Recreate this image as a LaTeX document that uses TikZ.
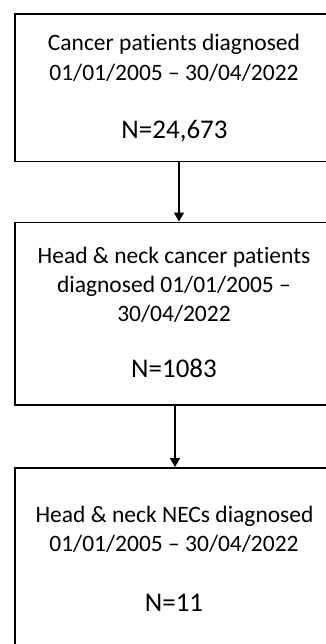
\documentclass[tikz,border=0pt]{standalone}
\usepackage{fontspec}
\setmainfont[Ligatures={NoCommon}]{Carlito}
\usetikzlibrary{arrows.meta}
\tikzset{
  stage/.style={draw=black, line width=1.9pt, rectangle, inner sep=0pt},
  txt/.style={anchor=base, inner sep=0pt, font=\fontsize{23.5}{28}\selectfont},
  bigtxt/.style={anchor=base, inner sep=0pt, font=\fontsize{27}{32}\selectfont},
  flow/.style={line width=1.4pt, -{Triangle[length=9pt,width=10pt]}}
}
\begin{document}
\begin{tikzpicture}[x=1pt,y=-1pt]
\useasboundingbox (0,0) rectangle (326,644);
\clip (0,0) rectangle (326,644);
\node[stage, minimum width=318pt, minimum height=147.5pt] (b1) at (174,87.75) {};
\node[stage, minimum width=318pt, minimum height=182.5pt] (b2) at (174,313.75) {};
\node[stage, minimum width=318pt, minimum height=240pt] (b3) at (174,588) {};
\node[txt] (t1a) at (174,50.5) {Cancer patients diagnosed};
\node[txt] (t1b) at (174,81) {01/01/2005 -- 30/04/2022};
\node[bigtxt] (t1c) at (174.5,139) {N=24,673};
\node[txt] (t2a) at (174,263) {Head \& neck cancer patients};
\node[txt] (t2b) at (174,292.5) {diagnosed 01/01/2005 --};
\node[txt] (t2c) at (174,321.5) {30/04/2022};
\node[bigtxt] (t2d) at (174,377.5) {N=1083};
\node[txt] (t3a) at (174.5,522.5) {Head \& neck NECs diagnosed};
\node[txt] (t3b) at (174,551.5) {01/01/2005 -- 30/04/2022};
\node[bigtxt] (t3c) at (174,611.5) {N=11};
\draw[flow] ([xshift=5pt]b1.south) -- ([xshift=5pt]b2.north);
\draw[flow] ([xshift=1pt]b2.south) -- ([xshift=1pt]b3.north);
\end{tikzpicture}
\end{document}
